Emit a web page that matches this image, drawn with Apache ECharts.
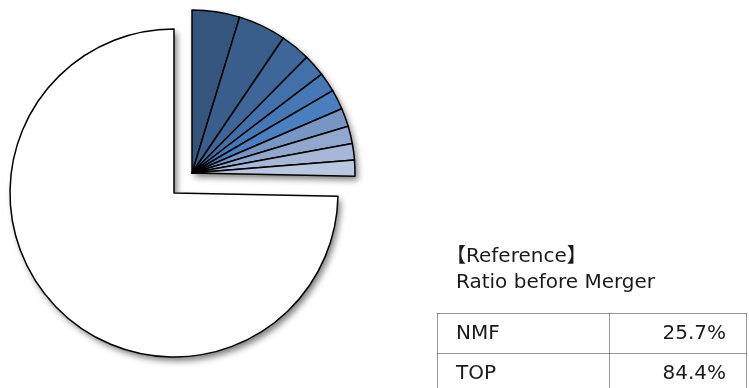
<!DOCTYPE html>
<html>
<head>
<meta charset="utf-8">
<script src="https://cdn.jsdelivr.net/npm/echarts@6/dist/echarts.min.js"></script>
<style>
  html, body { margin: 0; padding: 0; background: #ffffff; }
  #chart { width: 749px; height: 388px; }
</style>
</head>
<body>
<div id="chart"></div>
<script>
// Breakdown segments of the highlighted share (percent of the whole)
const segmentNames = ['S1', 'S2', 'S3', 'S4', 'S5', 'S6', 'S7', 'S8', 'S9', 'S10'];
const segmentValues = [4.72, 4.75, 2.96, 2.21, 1.94, 1.97, 1.83, 1.72, 1.64, 1.58];
const segmentColors = ['#34567d', '#3a5e8c', '#3e6699', '#4270a8', '#4578b5',
                       '#4a80bf', '#7896c4', '#92a7ce', '#a6b7d8', '#b9c7e1'];

// Remaining share, drawn as the large white slice
const remainderName = 'Others';
const remainderValue = 74.7;

// Reference table
const refHeading = ['【Reference】', 'Ratio before Merger'];
const refNames = ['NMF', 'TOP'];
const refValues = ['25.7%', '84.4%'];

const FONT = '"DejaVu Sans", "Noto Sans CJK JP", sans-serif';
const segmentTotal = segmentValues.reduce((a, b) => a + b, 0);

const mainCenter = [174, 193];
const explodedCenter = [192, 173];

const shadowFill = {
  color: '#ffffff',
  borderWidth: 0,
  shadowBlur: 6,
  shadowColor: 'rgba(0,0,0,0.5)',
  shadowOffsetX: 3,
  shadowOffsetY: 4
};
const hidden = { color: 'transparent', borderWidth: 0, shadowBlur: 0, shadowColor: 'transparent' };
const outline = { borderColor: '#000', borderWidth: 1.5 };

const pieBase = {
  type: 'pie',
  startAngle: 90,
  clockwise: true,
  silent: true,
  animation: false,
  label: { show: false },
  labelLine: { show: false },
  emphasis: { disabled: true }
};

// Table drawing
const textStyle = { font: '20px ' + FONT, fill: '#1a1a1a', textVerticalAlign: 'middle' };
const graphic = [];
graphic.push({ type: 'text', x: 446, y: 257, style: Object.assign({ text: refHeading[0] }, textStyle) });
graphic.push({ type: 'text', x: 456, y: 283, style: Object.assign({ text: refHeading[1] }, textStyle) });

const dotted = { stroke: '#333', lineWidth: 1, lineDash: [1, 1] };
const tableTop = 313.5, rowH = 40, tableLeft = 437.5, tableRight = 746.5, colX = 609.5;
for (let i = 0; i < refNames.length; i++) {
  const y = tableTop + rowH * i;
  graphic.push({ type: 'line', shape: { x1: tableLeft, y1: y, x2: tableRight, y2: y }, style: dotted });
  graphic.push({ type: 'text', x: 456, y: y + 20, style: Object.assign({ text: refNames[i] }, textStyle) });
  graphic.push({
    type: 'text', x: 726, y: y + 20,
    style: Object.assign({ text: refValues[i], textAlign: 'right' }, textStyle)
  });
}
[tableLeft, colX, tableRight].forEach(x => {
  graphic.push({ type: 'line', shape: { x1: x, y1: tableTop, x2: x, y2: 400 }, style: dotted });
});

const option = {
  backgroundColor: '#ffffff',
  animation: false,
  series: [
    // soft drop shadows behind both pieces
    Object.assign({}, pieBase, {
      center: mainCenter, radius: 164,
      data: [
        { name: 'segments', value: segmentTotal, itemStyle: hidden },
        { name: remainderName, value: remainderValue, itemStyle: shadowFill }
      ]
    }),
    Object.assign({}, pieBase, {
      center: explodedCenter, radius: 163,
      data: [
        { name: 'segments', value: segmentTotal, itemStyle: shadowFill },
        { name: remainderName, value: remainderValue, itemStyle: hidden }
      ]
    }),
    // white remainder slice
    Object.assign({}, pieBase, {
      center: mainCenter, radius: 164,
      data: [
        { name: 'segments', value: segmentTotal, itemStyle: hidden },
        { name: remainderName, value: remainderValue,
          itemStyle: Object.assign({ color: '#ffffff' }, outline) }
      ]
    }),
    // exploded breakdown segments
    Object.assign({}, pieBase, {
      center: explodedCenter, radius: 163,
      data: segmentValues.map((v, i) => ({
        name: segmentNames[i], value: v,
        itemStyle: Object.assign({ color: segmentColors[i] }, outline)
      })).concat([{ name: remainderName, value: remainderValue, itemStyle: hidden }])
    })
  ],
  graphic: graphic
};

const chart = echarts.init(document.getElementById('chart'), null, { renderer: 'canvas' });
chart.setOption(option);
</script>
</body>
</html>
